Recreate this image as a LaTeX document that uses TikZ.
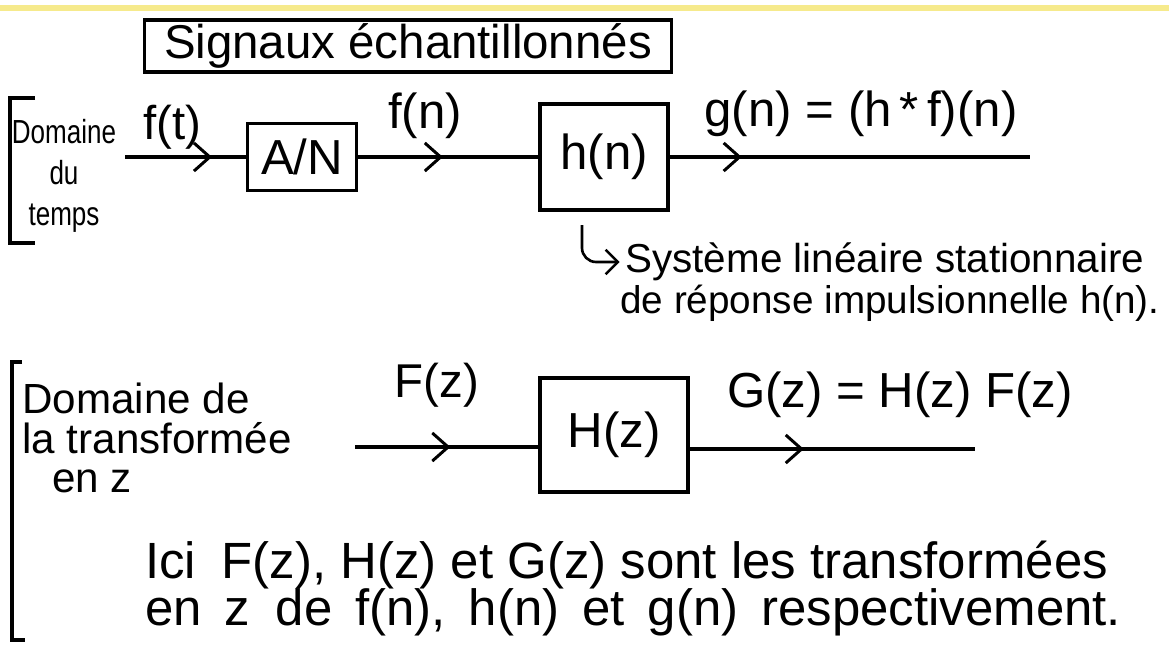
\documentclass[tikz,border=0pt]{standalone}
\usepackage{fontspec}
\setmainfont{Liberation Sans}
\usetikzlibrary{arrows.meta,decorations.markings,positioning}

\definecolor{jaune}{RGB}{246,234,140}

\begin{document}
\begin{tikzpicture}[
    x=0.02cm, y=-0.02cm,
    hand/.style={inner sep=0pt, font=\fontsize{#1}{#1}\selectfont},
    hand/.default=26,
    block/.style={rectangle, draw, line width=1.9pt, inner sep=0pt},
    sig/.style={draw, line width=1.9pt, postaction=decorate,
        decoration={markings, mark=at position #1 with {\arrow{Straight Barb[length=9pt,width=16pt,line width=1.7pt]}}}},
    bracket/.style={draw, line width=2pt}
]

\fill[white] (0,0) rectangle (1169,646);
\useasboundingbox (0,0) rectangle (1169,646);
\fill[jaune] (0,5) rectangle (1169,11);

\node [block, hand=27, minimum width=10.54cm, minimum height=1.04cm] (titre) at (408,46) {Signaux échantillonnés};

% domaine du temps
\draw [bracket] (35,98) -- (10,98) -- (10,243) -- (35,243);
\node [align=center, inner sep=0pt, font=\fontsize{19}{23.5}\selectfont] (temps) at (64,176) {\scalebox{0.78}[1]{Domaine}\\\scalebox{0.78}[1]{du}\\\scalebox{0.78}[1]{temps}};

\coordinate (ft) at (125,157);
\node [block, hand=28, minimum width=2.18cm, minimum height=1.34cm] (an) at (302,157) {A/N};
\node [block, hand=28, minimum width=2.56cm, minimum height=2.12cm] (hn) at (604,157) {h(n)};
\coordinate (gn) at (1030,157);

\path [sig=0.72] (ft) -- (an.west);
\path [sig=0.47] (an.east) -- (hn.west);
\path [sig=0.2] (hn.east) -- (gn);

\node [hand=27] (lft) at (172,127) {f(t)};
\node [hand=28] (lfn) at (425,116) {f(n)};
\node [hand=28] (lgn) at (861,114) {g(n) = (h\,*\,f)(n)};

\coordinate (crochet) at (582,225);
\node [hand=23, anchor=west] (sys1) at (625,262) {Système linéaire stationnaire};
\node [hand=22, anchor=west] (sys2) at (620,303) {de réponse impulsionnelle h(n).};
\draw [line width=1.5pt, rounded corners=8pt, -{Straight Barb[length=7pt,width=14pt]}] (crochet) |- ([xshift=-3pt]sys1.west);

% domaine de la transformee en z
\draw [bracket] (22,362) -- (12,362) -- (12,640) -- (25,640);
\node [align=left, anchor=north west, inner sep=0pt, font=\fontsize{24}{22.5}\selectfont] (trz) at (22,383) {Domaine de\\la transformée\\\hspace*{0.6cm}en z};

\coordinate (fz) at (355,447);
\node [block, hand=28, minimum width=2.96cm, minimum height=2.28cm] (hz) at (614,435) {H(z)};
\coordinate (gz) at (975,449);

\path [sig=0.52] (fz) -- (fz -| hz.west);
\path [sig=0.4] (hz.east |- gz) -- (gz);

\node [hand=27] (lfz) at (437,385) {F(z)};
\node [hand=28] (lgz) at (900,395) {G(z) = H(z) F(z)};

\node [hand=29, anchor=west] (ici1) at (145,565) {Ici\enspace F(z), H(z) et G(z) sont les transformées};
\node [hand=29, anchor=west] (ici2) at (145,612) {\spaceskip=0.45em en z\enspace de f(n), h(n) et g(n) respectivement.};

\end{tikzpicture}
\end{document}
